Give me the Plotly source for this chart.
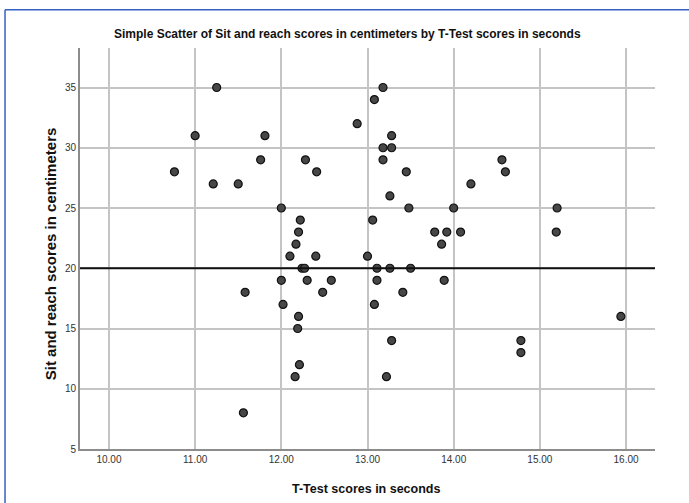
import plotly.graph_objects as go

# T-Test scores (seconds)
t_test = [
    11.25, 11.00, 11.81, 11.76, 12.28, 10.76, 12.41, 11.21, 11.50, 12.00,
    12.22, 12.20, 12.17, 12.10, 12.40, 13.00, 13.06, 13.08, 12.88, 13.18,
    13.28, 13.18, 13.28, 13.18, 13.45, 13.26, 13.48, 14.00, 15.20, 14.20,
    14.56, 14.60, 13.78, 13.92, 14.08, 13.86, 15.19,
    12.24, 12.27, 12.00, 12.30, 12.58, 11.58, 12.48, 12.02, 12.20, 12.19,
    12.21, 12.16, 11.56, 13.11, 13.26, 13.50, 13.11, 13.89, 13.41, 13.08,
    13.28, 13.22, 15.94, 14.78, 14.78,
]
# Sit and reach scores (centimeters)
sit_reach = [
    35, 31, 31, 29, 29, 28, 28, 27, 27, 25,
    24, 23, 22, 21, 21, 21, 24, 34, 32, 35,
    31, 30, 30, 29, 28, 26, 25, 25, 25, 27,
    29, 28, 23, 23, 23, 22, 23,
    20, 20, 19, 19, 19, 18, 18, 17, 16, 15,
    12, 11, 8, 20, 20, 20, 19, 19, 18, 17,
    14, 11, 16, 14, 13,
]
reference_value = 20
x_ticks = [10, 11, 12, 13, 14, 15, 16]
y_ticks = [5, 10, 15, 20, 25, 30, 35]

title_text = "Simple Scatter of Sit and reach scores in centimeters by T-Test scores in seconds"
x_title = "T-Test scores in seconds"
y_title = "Sit and reach scores in centimeters"

narrow = "Liberation Sans Narrow, Arial Narrow, Liberation Sans, Arial, sans-serif"
regular = "Liberation Sans, Arial, sans-serif"

fig = go.Figure()
fig.add_trace(go.Scatter(
    x=t_test, y=sit_reach, mode="markers",
    marker=dict(size=8, color="#474747", line=dict(color="#111111", width=1.2)),
    showlegend=False, hoverinfo="x+y",
))

fig.update_layout(
    width=689, height=503,
    margin=dict(l=80, r=34, t=48, b=54, autoexpand=False),
    paper_bgcolor="white", plot_bgcolor="white",
    xaxis=dict(
        range=[9.664, 16.336], tickvals=x_ticks,
        ticktext=[f"{v:.2f}" for v in x_ticks],
        showgrid=True, gridcolor="#c4c4c4", gridwidth=1.5,
        showline=True, linecolor="#8c8c8c", linewidth=2,
        zeroline=False, ticks="", ticklen=0,
        tickfont=dict(family=narrow, size=10, color="#333333"),
        automargin=False,
    ),
    yaxis=dict(
        range=[5, 38.28], tickvals=y_ticks,
        showgrid=True, gridcolor="#c4c4c4", gridwidth=1.5,
        showline=True, linecolor="#8c8c8c", linewidth=2,
        zeroline=False, ticks="", ticklen=0,
        tickfont=dict(family=narrow, size=10, color="#333333"),
        automargin=False,
    ),
    shapes=[
        dict(type="line", xref="paper", yref="y", x0=0, x1=1,
             y0=reference_value, y1=reference_value,
             line=dict(color="#111111", width=2)),
        dict(type="line", xref="paper", yref="paper", x0=-0.1304, x1=1.06,
             y0=1.0956, y1=1.0956, line=dict(color="#3560c2", width=1.5)),
        dict(type="line", xref="paper", yref="paper", x0=-0.1304, x1=-0.1304,
             y0=1.0956, y1=-0.14, line=dict(color="#3560c2", width=1.5)),
    ],
    annotations=[
        dict(text=f"<b>{title_text}</b>", xref="paper", yref="paper",
             x=0.466, y=1.0357, xanchor="center", yanchor="middle",
             showarrow=False, font=dict(family=narrow, size=12, color="#111111")),
        dict(text=f"<b>{x_title}</b>", xref="paper", yref="paper",
             x=0.498, y=-0.0998, xanchor="center", yanchor="middle",
             showarrow=False, font=dict(family=narrow, size=12.5, color="#111111")),
        dict(text=f"<b>{y_title}</b>", xref="paper", yref="paper",
             x=-0.0522, y=0.488, xanchor="center", yanchor="middle",
             textangle=-90, showarrow=False,
             font=dict(family=regular, size=15, color="#111111")),
    ],
)

fig.write_html("out.html")
